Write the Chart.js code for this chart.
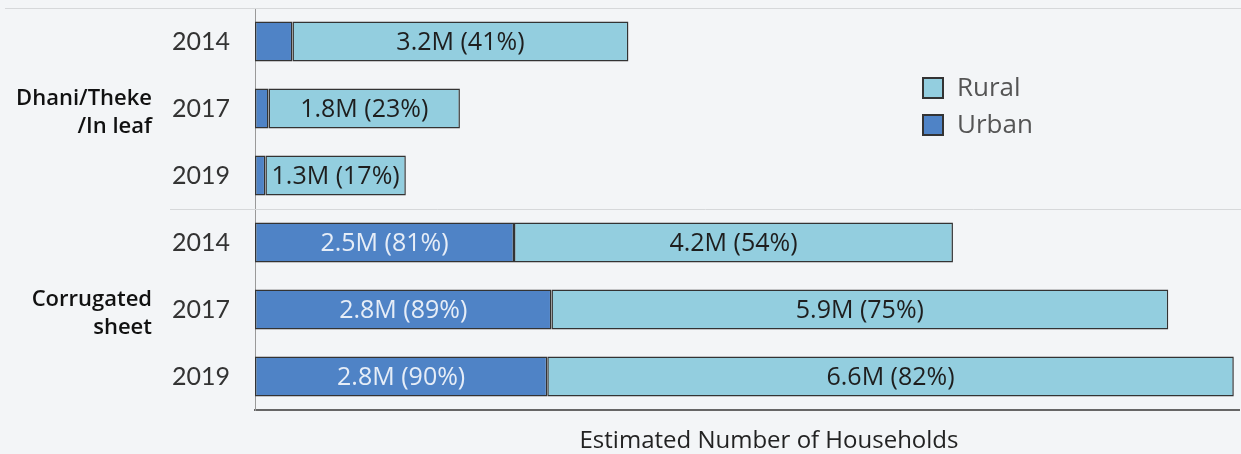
<!DOCTYPE html>
<html>
<head>
<meta charset="utf-8">
<script src="https://cdn.jsdelivr.net/npm/chart.js@4.4.1/dist/chart.umd.min.js"></script>
<style>
  html, body { margin: 0; padding: 0; background: #f3f5f7; }
  #wrap { width: 1241px; height: 454px; }
</style>
</head>
<body>
<div id="wrap"><canvas id="chart"></canvas></div>
<script>
// chart data
var years = ['2014', '2017', '2019', '2014', '2017', '2019'];
var groups = [['Dhani/Theke', '/In leaf'], ['Corrugated', 'sheet']];
var urban = [0.36, 0.13, 0.10, 2.49, 2.85, 2.81];        // millions
var rural = [3.23, 1.84, 1.35, 4.22, 5.93, 6.60];        // millions
var urbanText = ['', '', '', '2.5M (81%)', '2.8M (89%)', '2.8M (90%)'];
var ruralText = ['3.2M (41%)', '1.8M (23%)', '1.3M (17%)', '4.2M (54%)', '5.9M (75%)', '6.6M (82%)'];
var xTitle = 'Estimated Number of Households';

var urbanColor = '#4f83c6';
var ruralColor = '#93cedf';

var extras = {
  id: 'extras',
  beforeDraw: function (chart) {
    var ctx = chart.ctx;
    ctx.save();
    ctx.fillStyle = '#f3f5f7';
    ctx.fillRect(0, 0, chart.width, chart.height);
    ctx.restore();
  },
  beforeDatasetsDraw: function (chart) {
    var ctx = chart.ctx, a = chart.chartArea, y = chart.scales.y;
    ctx.save();
    ctx.strokeStyle = '#d6d8da';
    ctx.lineWidth = 1;
    ctx.beginPath();
    ctx.moveTo(5, a.top + 0.5);
    ctx.lineTo(chart.width, a.top + 0.5);
    var mid = Math.round((y.getPixelForValue(2) + y.getPixelForValue(3)) / 2) + 0.5;
    ctx.moveTo(170, mid);
    ctx.lineTo(chart.width, mid);
    ctx.stroke();
    ctx.restore();
  },
  afterDatasetsDraw: function (chart) {
    var ctx = chart.ctx;
    ctx.save();
    ctx.font = '25px "Open Sans"';
    ctx.textAlign = 'center';
    ctx.textBaseline = 'middle';
    var mu = chart.getDatasetMeta(0), mr = chart.getDatasetMeta(1);
    mu.data.forEach(function (bar, i) {
      if (!urbanText[i]) return;
      ctx.fillStyle = '#e6edf7';
      ctx.fillText(urbanText[i], (bar.base + bar.x) / 2, bar.y + 1);
    });
    mr.data.forEach(function (bar, i) {
      ctx.fillStyle = '#1e1e1e';
      ctx.fillText(ruralText[i], (bar.base + bar.x) / 2, bar.y + 1);
    });
    ctx.restore();
  },
  afterDraw: function (chart) {
    var ctx = chart.ctx, y = chart.scales.y;
    ctx.save();
    // group labels
    ctx.font = '600 22px "Open Sans"';
    ctx.fillStyle = '#111';
    ctx.textAlign = 'right';
    ctx.textBaseline = 'middle';
    groups.forEach(function (g, k) {
      var cy = y.getPixelForValue(k * 3 + 1) + 4;
      ctx.fillText(g[0], 152, cy - 14);
      ctx.fillText(g[1], 152, cy + 14);
    });
    // legend
    var items = [['Rural', ruralColor], ['Urban', urbanColor]];
    items.forEach(function (it, k) {
      var ly = 88 + k * 37;
      ctx.fillStyle = it[1];
      ctx.fillRect(923, ly - 10, 20, 20);
      ctx.strokeStyle = '#333';
      ctx.lineWidth = 2;
      ctx.strokeRect(923, ly - 10, 20, 20);
      ctx.fillStyle = '#555';
      ctx.font = '26px "Open Sans"';
      ctx.textAlign = 'left';
      ctx.fillText(it[0], 957, ly + 1);
    });
    // axis title
    ctx.font = '24px "Open Sans"';
    ctx.fillStyle = '#222';
    ctx.textAlign = 'center';
    ctx.fillText(xTitle, 769, 441);
    ctx.restore();
  }
};

new Chart(document.getElementById('chart'), {
  type: 'bar',
  data: {
    labels: years,
    datasets: [{
      label: 'Urban',
      data: urban,
      backgroundColor: urbanColor,
      borderColor: '#333',
      borderWidth: 1.5,
      borderSkipped: false
    }, {
      label: 'Rural',
      data: rural,
      backgroundColor: ruralColor,
      borderColor: '#333',
      borderWidth: 1.5,
      borderSkipped: false
    }]
  },
  options: {
    indexAxis: 'y',
    responsive: true,
    maintainAspectRatio: false,
    animation: false,
    layout: { padding: { top: 8, right: 2, left: 0, bottom: 0 } },
    datasets: { bar: { categoryPercentage: 1, barPercentage: 0.6 } },
    plugins: { legend: { display: false }, tooltip: { enabled: false } },
    scales: {
      x: {
        stacked: true,
        min: 0,
        max: 9.46,
        ticks: { display: false },
        grid: { display: false },
        border: { display: true, color: '#666', width: 2 },
        afterFit: function (s) { s.height = 44; s.paddingLeft = 0; s.paddingRight = 0; }
      },
      y: {
        stacked: true,
        grid: { display: false, drawTicks: false },
        border: { display: true, color: '#999', width: 1 },
        ticks: { color: '#333', padding: 25, font: { family: 'Lato', size: 25 } },
        afterFit: function (s) { s.width = 255; s.paddingTop = 0; s.paddingBottom = 0; }
      }
    }
  },
  plugins: [extras]
});
</script>
</body>
</html>
